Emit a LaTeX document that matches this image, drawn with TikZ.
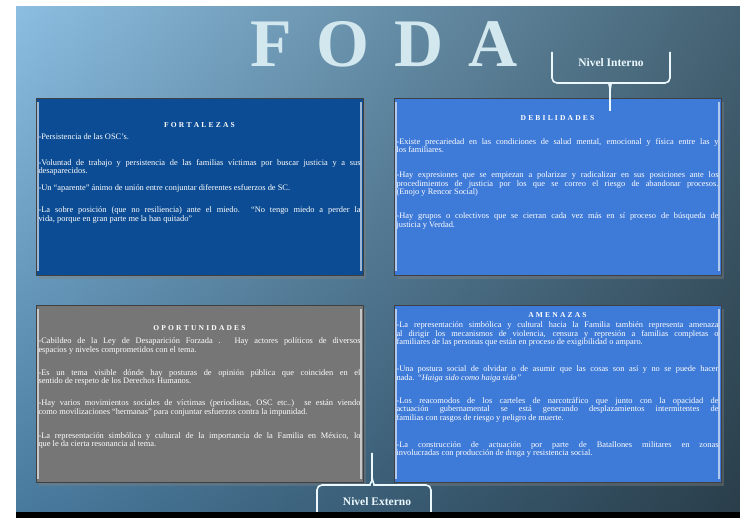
\documentclass[tikz,border=0pt]{standalone}
\usepackage{fontspec}
\setmainfont{Liberation Serif}
\usetikzlibrary{positioning,shadows,shadings}

\definecolor{fondoA}{RGB}{140,190,225}
\definecolor{fondoB}{RGB}{68,98,115}
\definecolor{fondoC}{RGB}{72,122,158}
\definecolor{fondoD}{RGB}{42,62,74}
\definecolor{azulosc}{RGB}{12,76,148}
\definecolor{azulcla}{RGB}{62,122,216}
\definecolor{gris}{RGB}{118,118,118}
\definecolor{letra}{RGB}{210,232,238}

\newcommand{\pgap}[1]{\par\vspace{#1pt}}
\makeatletter
\newcommand{\espaciar}[2]{\@tfor\l@tra:=#2\do{\kern#1\l@tra\kern#1}}
\makeatother

\tikzset{
  cuadro/.style={draw=black!75, line width=0.8pt, minimum width=327pt,
    minimum height=177pt, inner sep=0pt,
    drop shadow={opacity=0.4, shadow xshift=3pt, shadow yshift=-4pt}},
  bisel/.style={draw=white, opacity=0.6, line width=1.4pt},
  titulo/.style={text=white, inner sep=0pt,
    font=\fontsize{7.5}{8}\selectfont\bfseries},
  texto/.style={text=white, text width=322pt, align=justify, inner sep=0pt,
    font=\fontsize{8.4}{8.5}\selectfont\setlength\parindent{0pt}},
  llave/.style={draw=white!92!cyan, line width=1.6pt, rounded corners=5pt},
  nivel/.style={text=white!92!cyan, inner sep=0pt,
    font=\fontsize{11.5}{12}\selectfont\bfseries},
}

\begin{document}
\begin{tikzpicture}[x=1pt,y=-1pt]
  \useasboundingbox (0,0) rectangle (740,518);
  \fill[white] (0,0) rectangle (740,518);
  \shade[upper left=fondoA, upper right=fondoB, lower left=fondoC,
    lower right=fondoD] (16,7) rectangle (740,512);

  % titulo
  \node[text=letra, anchor=base, inner sep=0pt,
    font=\fontsize{68}{68}\selectfont\bfseries]
    (foda) at (384,67) {\espaciar{12.5pt}{FODA}};

  % cuadros
  \node[cuadro, fill=azulosc] (fort)  at (199.5,186.5) {};
  \node[cuadro, fill=azulcla] (debil) at (557.5,186.5) {};
  \node[cuadro, fill=gris]    (oport) at (199.5,394) {};
  \node[cuadro, fill=azulcla] (amen)  at (557.5,394) {};

  \foreach \c in {fort,debil,oport,amen}{
    \draw[bisel] ([xshift=2.5pt,yshift=-4pt]\c.north west) -- ([xshift=2.5pt,yshift=4pt]\c.south west);
    \draw[bisel] ([xshift=-2.5pt,yshift=-4pt]\c.north east) -- ([xshift=-2.5pt,yshift=4pt]\c.south east);
  }

  \node[titulo] (fortT)  at ([yshift=-27pt]fort.north)  {\espaciar{1.1pt}{FORTALEZAS}};
  \node[titulo] (debilT) at ([yshift=-20pt]debil.north) {\espaciar{1.1pt}{DEBILIDADES}};
  \node[titulo] (oportT) at ([yshift=-23pt]oport.north) {\espaciar{1.1pt}{OPORTUNIDADES}};
  \node[titulo] (amenT)  at ([yshift=-10pt]amen.north)  {\espaciar{1.1pt}{AMENAZAS}};

  \node[texto, below=6pt of fortT] (fortX) {%
    -Persistencia de las OSC's.\pgap{17.5}
    -Voluntad de trabajo y persistencia de las familias víctimas por buscar justicia y a sus\linebreak
    desaparecidos.\pgap{8.5}
    -Un “aparente” ánimo de unión entre conjuntar diferentes esfuerzos de SC.\pgap{13.5}
    -La sobre posición (que no resiliencia) ante el miedo. “No tengo miedo a perder la\linebreak
    vida, porque en gran parte me la han quitado”};

  \node[texto, below=18pt of debilT] (debilX) {%
    -Existe precariedad en las condiciones de salud mental, emocional y física entre las y\linebreak
    los familiares.\pgap{16.5}
    -Hay expresiones que se empiezan a polarizar y radicalizar en sus posiciones ante los\linebreak
    procedimientos de justicia por los que se correo el riesgo de abandonar procesos.\linebreak
    (Enojo y Rencor Social)\pgap{15.5}
    -Hay grupos o colectivos que se cierran cada vez más en sí proceso de búsqueda de\linebreak
    justicia y Verdad.};

  \node[texto, below=7pt of oportT] (oportX) {%
    -Cabildeo de la Ley de Desaparición Forzada . Hay actores políticos de diversos\linebreak
    espacios y niveles comprometidos con el tema.\pgap{14.5}
    -Es un tema visible dónde hay posturas de opinión pública que coinciden en el\linebreak
    sentido de respeto de los Derechos Humanos.\pgap{13.5}
    -Hay varios movimientos sociales de víctimas (periodistas, OSC etc..) se están viendo\linebreak
    como movilizaciones “hermanas” para conjuntar esfuerzos contra la impunidad.\pgap{15.5}
    -La representación simbólica y cultural de la importancia de la Familia en México, lo\linebreak
    que le da cierta resonancia al tema.};

  \node[texto, below=4pt of amenT] (amenX) {%
    -La representación simbólica y cultural hacia la Familia también representa amenaza\linebreak
    al dirigir los mecanismos de violencia, censura y  represión a familias completas o\linebreak
    familiares de las personas que están en proceso de exigibilidad o amparo.\pgap{18.5}
    -Una postura social de olvidar o de asumir  que las cosas son así y no se puede hacer\linebreak
    nada. \textit{“Haiga sido como haiga sido”}\pgap{14.5}
    -Los reacomodos de los carteles de narcotráfico que junto con la opacidad de\linebreak
    actuación gubernamental se está generando desplazamientos intermitentes de\linebreak
    familias con rasgos de riesgo y peligro de muerte.\pgap{18.5}
    -La construcción de actuación por parte de Batallones militares en zonas\linebreak
    involucradas con producción de droga y resistencia social.};

  % llaves
  \coordinate (inT) at (610,111);
  \coordinate (exT) at (372,453);
  \draw[llave] (552,52) -- (552,83) -- (604,83) to[out=0,in=90] (610,93) -- (inT);
  \draw[llave] (670,52) -- (670,83) -- (616,83) to[out=180,in=90] (610,93);
  \node[nivel] (interno) at (611,63) {Nivel Interno};

  \draw[llave] (exT) -- (372,476) to[out=-90,in=0] (365,485) -- (317,485) -- (317,512);
  \draw[llave] (372,476) to[out=-90,in=180] (379,485) -- (431,485) -- (431,512);
  \node[nivel] (externo) at (377,502) {Nivel Externo};

  \fill[black] (16,512) rectangle (740,518);
\end{tikzpicture}
\end{document}
